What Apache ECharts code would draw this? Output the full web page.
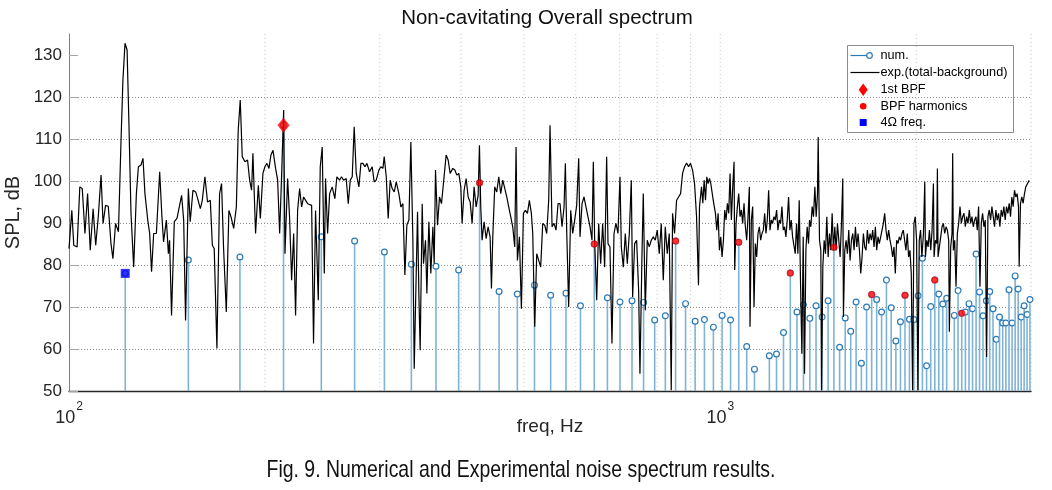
<!DOCTYPE html>
<html><head><meta charset="utf-8">
<script src="https://cdn.jsdelivr.net/npm/echarts@6/dist/echarts.min.js"></script>
<style>html,body{margin:0;padding:0;background:#fff}#c{width:1052px;height:490px}</style>
</head><body><div id="c"></div>
<script>
const TITLE = 'Non-cavitating Overall spectrum';
const CAPTION = 'Fig. 9. Numerical and Experimental noise spectrum results.';
const X_NAME = 'freq, Hz';
const Y_NAME = 'SPL, dB';
const LEGEND_LABELS = ['num.', 'exp.(total-background)', '1st BPF', 'BPF harmonics', '4\u03A9 freq.'];
const X_RANGE = [100, 3000];
const Y_RANGE = [50, 135];
const Y_TICKS = [50, 60, 70, 80, 90, 100, 110, 120, 130];
const X_GRID = [200, 300, 400, 500, 600, 700, 800, 900, 1000, 2000, 3000];

// numerical (stem) results
const NUM_FREQ = [122, 152.5, 183, 213.5, 244, 274.5, 305, 335.5, 366, 396.5,
  427, 457.5, 488, 518.5, 549, 579.5, 610, 640.5, 671, 701.5,
  732, 762.5, 793, 823.5, 854, 884.5, 915, 945.5, 976, 1006.5,
  1037, 1067.5, 1098, 1128.5, 1189.5, 1220, 1250.5, 1281, 1311.5, 1342,
  1372.5, 1403, 1433.5, 1464, 1494.5, 1525, 1555.5, 1586, 1616.5, 1647,
  1677.5, 1708, 1738.5, 1769, 1799.5, 1830, 1860.5, 1891, 1921.5, 1952,
  1982.5, 2013, 2043.5, 2074, 2104.5, 2135, 2165.5, 2196, 2226.5, 2287.5,
  2318, 2348.5, 2379, 2409.5, 2440, 2470.5, 2501, 2531.5, 2562, 2592.5,
  2623, 2653.5, 2684, 2714.5, 2745, 2775.5, 2806, 2836.5, 2867, 2897.5,
  2928, 2958.5, 2989];
const NUM_SPL = [78.0, 81.2, 81.9, 113.3, 86.7, 85.7, 83.1, 80.2, 79.7, 78.8,
  99.6, 73.7, 73.1, 75.2, 72.8, 73.3, 70.3, 85.0, 72.2, 71.2,
  71.5, 71.1, 66.9, 67.9, 85.7, 70.8, 66.6, 67.0, 65.2, 68.0,
  66.9, 85.4, 60.6, 55.2, 58.4, 58.8, 63.9, 78.1, 68.8, 70.5,
  67.3, 70.3, 67.6, 71.5, 84.2, 60.4, 67.4, 64.2, 71.2, 56.6,
  70.0, 73.0, 71.8, 68.8, 76.4, 69.8, 61.9, 66.5, 72.8, 67.1,
  67.0, 72.7, 81.6, 56.0, 70.1, 76.4, 73.1, 70.7, 72.1, 68.0,
  73.9, 68.5, 68.8, 70.8, 69.6, 82.6, 73.6, 67.9, 71.5, 73.7,
  69.6, 62.3, 67.6, 66.2, 66.2, 74.1, 66.2, 77.4, 74.3, 67.6,
  70.3, 68.2, 71.8];

const BPF1_FREQ = [213.5];
const BPF1_SPL = [113.3];
const HARM_FREQ = [427, 640.5, 854, 1067.5, 1281, 1494.5, 1708, 1921.5, 2135, 2348.5];
const HARM_SPL = [99.6, 85.0, 85.7, 85.4, 78.1, 84.2, 73.0, 72.8, 76.4, 68.5];
const OMEGA4_FREQ = [122];
const OMEGA4_SPL = [78.0];

// experimental spectrum [Hz, dB]
const EXP_POINTS = [
[100.0,83.9],[101.0,93.0],[101.7,84.7],[102.9,84.3],[103.9,98.6],[104.8,98.2],[105.8,87.5],[106.8,97.0],[107.8,83.5],[108.9,93.4],
[109.9,84.7],[110.9,91.5],[112.0,101.4],[112.8,89.9],[113.8,94.2],[114.9,94.0],[116.0,85.1],[116.8,81.5],[117.9,89.9],[119.1,87.9],
[120.2,109.7],[121.0,124.0],[121.9,132.8],[122.8,131.2],[123.6,113.7],[124.5,92.3],[125.7,79.5],[126.9,97.0],[127.8,103.4],[129.0,103.8],
[129.9,105.4],[130.8,97.0],[132.1,90.7],[133.0,87.5],[133.9,78.4],[134.9,87.5],[136.2,87.5],[137.8,102.2],[138.8,92.3],[139.7,85.5],
[141.1,90.7],[142.1,82.7],[142.7,85.9],[143.7,68.0],[145.1,90.3],[146.5,91.1],[147.5,93.4],[148.9,96.6],[150.0,90.7],[151.0,66.8],
[152.5,98.2],[153.5,90.3],[155.0,97.8],[156.5,97.4],[157.6,95.8],[159.1,93.4],[160.2,95.4],[161.7,101.0],[163.2,95.0],[164.8,95.4],
[166.0,84.7],[167.1,83.9],[168.7,60.1],[170.3,97.0],[171.5,99.4],[172.7,84.3],[174.4,68.8],[176.0,93.0],[177.3,91.5],[179.0,88.7],
[180.7,93.8],[181.9,112.1],[183.2,119.3],[184.5,105.8],[186.3,104.6],[188.0,105.0],[189.4,100.2],[190.7,97.8],[191.6,106.6],[193.4,87.5],
[195.3,99.0],[196.7,91.1],[198.5,101.8],[199.9,103.4],[201.3,104.2],[202.8,103.0],[204.2,106.2],[205.7,107.3],[207.6,103.0],[209.1,100.2],
[210.6,87.5],[212.1,101.8],[213.6,116.9],[214.6,82.7],[216.6,100.6],[218.1,91.5],[219.7,76.4],[221.3,87.5],[222.8,68.0],[224.4,93.0],
[226.0,98.2],[227.6,93.8],[229.2,96.2],[230.8,96.6],[232.5,94.6],[234.1,95.0],[235.8,94.2],[237.4,61.3],[239.1,93.0],[241.4,71.6],
[243.1,103.4],[244.8,108.1],[246.6,78.0],[247.7,100.6],[249.5,87.5],[251.3,97.0],[253.6,98.6],[256.0,95.8],[257.8,101.0],[260.3,100.2],
[262.1,101.0],[264.0,100.2],[266.5,100.6],[268.4,94.6],[270.3,100.2],[272.2,101.0],[274.1,112.9],[276.1,101.8],[278.7,98.6],
[280.7,104.2],[282.7,104.2],[284.7,103.4],[286.7,104.2],[289.4,102.2],[292.1,103.4],[294.2,99.8],[296.3,100.2],[299.1,102.6],[301.2,103.4],
[303.4,103.0],[304.8,105.8],[307.0,101.0],[309.1,91.1],[311.3,100.2],[313.5,98.2],[315.8,97.4],[318.0,99.8],[321.0,97.0],[323.3,93.8],
[325.6,94.6],[327.9,77.6],[330.2,89.5],[332.6,90.7],[334.9,109.3],[337.3,85.9],[338.9,55.3],[341.3,78.0],[342.9,92.7],[344.5,73.2],
[346.1,59.7],[348.6,94.6],[350.2,80.3],[352.7,85.9],[354.4,73.2],[356.9,90.3],[359.4,78.0],[362.0,89.1],[363.7,80.3],[365.4,102.6],
[368.0,89.5],[370.6,96.2],[373.2,94.6],[375.8,99.4],[379.4,106.2],[382.1,105.0],[384.8,101.8],[388.4,103.0],[391.2,102.6],[394.0,101.4],
[396.8,101.8],[399.6,98.6],[401.4,89.9],[404.3,97.8],[407.2,100.6],[410.1,96.2],[413.0,95.0],[415.9,89.9],[418.8,98.6],[421.8,93.8],
[424.8,96.6],[426.8,108.5],[428.8,93.8],[430.8,85.9],[433.9,90.3],[437.0,86.3],[440.1,89.1],[443.2,86.7],[445.3,74.4],[447.4,86.7],
[450.5,98.6],[453.7,97.4],[457.0,101.0],[460.2,97.0],[463.5,100.2],[466.7,100.2],[470.1,96.2],[473.4,93.8],[476.7,91.5],[480.1,89.1],
[483.5,84.3],[485.8,108.1],[488.1,81.1],[491.6,86.7],[495.0,69.6],[498.6,92.3],[502.1,93.0],[505.7,92.3],[509.2,95.4],[512.8,92.3],
[515.3,87.5],[518.9,65.3],[522.6,82.7],[526.3,81.1],[530.0,79.5],[533.8,89.9],[537.6,89.5],[541.4,87.5],[545.2,95.4],[547.8,113.3],
[551.7,89.1],[555.6,89.9],[559.5,88.3],[563.5,94.6],[567.5,94.6],[571.5,89.1],[575.6,93.8],[578.3,104.2],[581.0,88.3],[585.1,70.0],
[589.3,93.0],[593.5,87.5],[597.7,90.7],[601.9,94.2],[606.2,105.4],[609.0,86.7],[613.4,94.6],[617.7,96.2],[622.1,93.8],[626.5,93.8],
[631.0,89.1],[635.4,85.9],[638.4,104.6],[641.4,85.9],[646.0,71.6],[650.6,89.9],[655.2,80.3],[659.8,89.9],[664.5,79.5],[669.2,105.8],
[672.4,85.1],[677.1,84.3],[681.9,61.3],[686.8,87.5],[691.6,89.9],[696.5,87.5],[701.5,101.0],[704.8,84.3],[709.8,79.5],[714.8,87.5],
[719.9,80.3],[725.0,87.5],[730.1,100.2],[733.6,72.4],[738.8,85.1],[744.0,85.9],[749.3,74.0],[752.8,54.1],[758.1,81.9],[761.7,97.0],
[767.1,69.2],[772.5,85.9],[778.0,84.3],[783.5,85.9],[789.1,86.7],[794.7,85.9],[800.3,88.3],[806.0,82.7],[811.7,89.9],[817.5,76.4],
[823.3,89.1],[829.1,82.7],[835.0,87.5],[840.9,50.2],[844.8,92.3],[850.8,87.5],[856.9,95.4],[862.9,96.2],[869.1,97.0],[875.2,101.8],
[881.4,103.4],[887.7,104.3],[894.0,103.4],[900.3,104.2],[906.7,102.6],[913.1,99.4],[919.6,91.5],
[925.9,75.2],[929.2,93.9],[935.8,98.6],[940.2,94.7],[944.6,100.2],[949.1,95.4],[953.5,101.0],[958.0,99.4],[962.5,100.6],[967.0,99.4],
[971.6,99.8],[976.2,95.1],[983.1,92.3],[987.7,88.3],[992.4,92.3],[997.0,83.5],[1001.7,86.7],[1006.4,81.9],[1011.2,85.9],[1015.9,93.1],
[1020.7,90.7],[1025.5,94.7],[1030.4,92.3],[1035.2,101.8],[1040.1,90.7],[1045.0,98.6],[1050.0,104.6],[1052.4,78.8],[1057.4,89.9],[1062.4,93.9],
[1067.4,97.0],[1072.4,91.5],[1077.5,93.1],[1082.5,89.9],[1087.6,94.7],[1092.8,89.1],[1097.9,85.9],[1103.1,91.5],[1108.3,98.6],[1110.9,65.3],
[1116.2,90.7],[1121.4,93.9],[1126.7,70.0],[1132.0,85.1],[1137.3,81.9],[1142.7,87.5],[1148.1,89.1],[1153.5,85.9],[1158.9,87.5],[1164.4,88.3],
[1169.9,92.3],[1175.4,87.5],[1180.9,90.7],[1186.5,97.8],[1192.1,88.3],[1197.7,90.7],[1203.3,89.9],[1209.0,91.5],[1214.7,90.7],[1220.4,93.1],
[1226.2,88.3],[1232.0,90.7],[1237.8,89.9],[1243.6,93.9],[1249.5,88.3],[1255.4,89.1],[1261.3,86.7],[1267.2,90.7],[1273.2,96.2],[1279.2,88.3],
[1285.2,90.7],[1291.3,86.7],[1297.4,86.7],[1303.5,82.7],[1309.6,89.9],[1315.8,82.7],[1322.0,95.4],[1328.2,75.6],[1334.5,58.9],[1340.8,86.7],
[1347.1,54.1],[1353.5,83.5],[1359.8,89.1],[1366.2,85.1],
[1371.0,90.7],[1377.5,89.1],[1384.0,93.9],[1390.5,91.5],[1397.1,98.6],[1403.7,91.5],[1410.3,97.0],[1413.6,110.5],[1420.3,85.9],[1427.0,83.5],
[1430.3,50.2],[1437.1,79.6],[1443.9,85.9],[1450.7,82.7],[1457.5,91.5],[1464.4,81.9],[1471.3,87.5],[1478.2,83.5],[1485.2,92.3],[1492.2,83.5],
[1499.2,89.1],[1506.3,83.5],[1513.4,89.9],[1520.5,85.9],[1527.7,81.9],[1534.9,89.9],[1542.1,100.6],[1545.7,67.6],[1553.0,83.5],[1560.3,85.9],
[1567.7,82.7],[1575.1,88.3],[1582.5,81.1],[1590.0,85.9],[1597.5,87.5],[1605.0,83.5],[1612.6,89.1],[1620.2,84.3],[1627.8,87.5],[1635.5,83.5],
[1643.2,78.0],[1650.9,81.9],[1658.7,87.5],[1666.5,84.3],[1674.4,83.5],[1682.3,88.3],[1690.2,85.1],[1698.2,87.5],[1706.2,85.9],[1714.2,88.3],
[1722.3,84.3],[1730.4,89.1],[1738.5,83.5],[1746.7,86.7],[1755.0,85.1],[1763.3,86.7],[1771.6,88.3],[1779.9,89.9],[1788.3,92.3],[1796.8,88.3],
[1805.2,85.9],[1813.7,88.3],[1822.3,85.9],[1830.9,84.3],[1839.5,81.9],[1848.2,84.3],[1856.9,78.0],[1865.6,85.9],[1874.4,85.1],[1883.3,86.7],
[1892.1,85.9],[1901.0,87.5],[1910.0,88.3],[1919.0,85.9],[1928.0,83.5],[1937.1,87.5],[1946.2,81.9],[1955.4,83.5],[1964.6,78.0],[1973.9,50.2],
[1983.2,89.9],[1992.5,91.5],[2001.9,85.9],[2011.3,50.2],[2020.8,85.9],[2030.3,88.3],[2039.9,81.9],
[2051.1,87.5],[2060.7,99.8],[2065.6,81.9],[2075.3,85.9],[2085.0,84.3],[2094.8,88.3],[2104.7,83.5],[2114.6,88.3],[2124.6,99.4],[2129.6,81.9],
[2139.6,85.9],[2149.7,85.1],[2154.8,103.0],[2159.8,81.9],[2170.0,84.3],[2180.2,86.7],[2190.5,89.1],[2200.8,89.9],[2211.2,87.5],[2221.6,89.1],
[2232.1,88.3],[2242.6,85.9],[2247.9,64.1],[2258.5,84.3],[2269.1,87.5],[2274.4,106.6],[2279.8,83.5],[2290.6,85.9],[2301.4,74.8],[2312.2,87.5],
[2323.1,89.9],[2334.0,93.9],[2345.0,89.9],[2356.1,91.5],[2367.2,92.3],[2378.3,89.1],[2389.5,91.5],[2400.8,89.9],[2412.1,93.1],[2423.4,89.9],
[2434.9,91.5],[2446.3,89.1],[2457.9,90.7],[2469.5,91.5],[2481.1,88.3],[2492.8,93.9],[2504.5,74.8],[2516.3,89.9],[2528.2,92.3],[2540.1,89.1],
[2552.1,90.7],[2564.1,58.1],[2576.2,91.5],[2588.3,93.1],[2600.5,90.7],[2612.7,93.9],[2625.0,91.5],[2637.4,89.1],[2649.8,93.1],[2662.3,90.7],
[2674.8,92.3],[2687.4,89.1],[2700.1,93.1],[2712.8,91.5],[2725.6,93.9],[2738.4,90.7],[2751.3,93.9],[2764.3,92.3],[2777.3,94.7],[2790.4,91.5],
[2803.5,96.2],[2816.7,93.9],[2830.0,97.8],[2843.3,96.2],[2856.7,97.0],[2870.2,93.9],[2876.9,79.6],[2890.5,94.7],[2904.1,96.2],[2917.8,94.7],
[2931.5,97.0],[2945.3,98.6],[2959.2,98.2],[2973.1,99.8],[2980.1,100.2]
];

const FONT = '"Liberation Sans", Arial, Helvetica, sans-serif';
const STEM_COLOR = '#7fb3d5';
const CIRCLE_COLOR = '#2a7ab8';

const chart = echarts.init(document.getElementById('c'), null, {renderer: 'canvas'});
const zip = (a, b) => a.map((v, i) => [v, b[i]]);

const option = {
  animation: false,
  backgroundColor: '#fff',
  textStyle: {fontFamily: FONT},
  title: [
    {text: TITLE, left: 547, top: 8, textAlign: 'center', padding: 0,
     textStyle: {fontFamily: FONT, fontSize: 20.5, fontWeight: 'normal', color: '#111'}}
  ],
  grid: {left: 69, right: 21, top: 34, bottom: 99, containLabel: false, outerBoundsMode: 'none'},
  xAxis: {
    type: 'log', logBase: 10, min: X_RANGE[0], max: X_RANGE[1],
    name: X_NAME, nameLocation: 'middle', nameGap: 26, nameMoveOverlap: false,
    nameTextStyle: {fontFamily: FONT, fontSize: 19, color: '#262626'},
    axisLine: {show: true, lineStyle: {color: '#262626', width: 1.3}},
    axisTick: {show: false},
    splitLine: {show: false},
    axisLabel: {
      margin: 10, showMaxLabel: false,
      formatter: v => {
        const e = Math.log10(v), r = Math.round(e);
        if (Math.abs(e - r) < 1e-6 && (r === 2 || r === 3)) return '{b|10}{s|' + r + '}';
        return '';
      },
      rich: {
        b: {fontFamily: FONT, fontSize: 18, color: '#262626', lineHeight: 26, verticalAlign: 'bottom'},
        s: {fontFamily: FONT, fontSize: 12, color: '#262626', lineHeight: 12, verticalAlign: 'top', padding: [0, 0, 0, 1]}
      }
    }
  },
  yAxis: {
    type: 'value', min: Y_RANGE[0], max: Y_RANGE[1], interval: 10,
    name: Y_NAME, nameLocation: 'middle', nameGap: 46, nameRotate: 90, nameMoveOverlap: false,
    nameTextStyle: {fontFamily: FONT, fontSize: 20, color: '#262626'},
    axisLine: {show: true, lineStyle: {color: '#7f7f7f', width: 1}},
    axisTick: {show: true, inside: true, length: 9, customValues: Y_TICKS, lineStyle: {color: '#a6a6a6'}},
    axisLabel: {customValues: Y_TICKS, margin: 7, fontFamily: FONT, fontSize: 17, color: '#262626',
      formatter: v => (v > 130 ? '' : String(v))},
    splitLine: {show: true, showMinLine: false, showMaxLine: false, lineStyle: {color: '#8c8c8c', width: 1, type: [1, 2]}}
  },
  series: [
    {
      name: 'grid', type: 'custom', silent: true, z: 0,
      data: X_GRID.map(v => [v, Y_RANGE[0]]),
      renderItem: (params, api) => {
        const b = api.coord([api.value(0), Y_RANGE[0]]);
        const t = api.coord([api.value(0), Y_RANGE[1]]);
        return {type: 'line', shape: {x1: b[0], y1: b[1], x2: t[0], y2: t[1]},
          style: {stroke: '#c8c8c8', lineWidth: 1, lineDash: [1, 3]}};
      }
    },
    {
      name: LEGEND_LABELS[0], type: 'custom', z: 2,
      data: zip(NUM_FREQ, NUM_SPL),
      renderItem: (params, api) => {
        const t = api.coord([api.value(0), api.value(1)]);
        const b = api.coord([api.value(0), Y_RANGE[0]]);
        return {type: 'group', children: [
          {type: 'line', shape: {x1: b[0], y1: b[1], x2: t[0], y2: t[1]}, style: {stroke: STEM_COLOR, lineWidth: 1.6}},
          {type: 'circle', shape: {cx: t[0], cy: t[1], r: 2.9}, style: {fill: '#fff', stroke: CIRCLE_COLOR, lineWidth: 1.2}}
        ]};
      }
    },
    {
      name: LEGEND_LABELS[1], type: 'line', z: 3, showSymbol: false, symbol: 'none',
      data: EXP_POINTS,
      lineStyle: {color: '#000', width: 1.2}
    },
    {
      name: LEGEND_LABELS[2], type: 'scatter', z: 5, symbol: 'diamond', symbolSize: [12, 15],
      data: zip(BPF1_FREQ, BPF1_SPL), itemStyle: {color: '#ff0000'}
    },
    {
      name: LEGEND_LABELS[3], type: 'scatter', z: 5, symbol: 'circle', symbolSize: 7,
      data: zip(HARM_FREQ, HARM_SPL), itemStyle: {color: '#ff0000'}
    },
    {
      name: LEGEND_LABELS[4], type: 'scatter', z: 5, symbol: 'rect', symbolSize: 9,
      data: zip(OMEGA4_FREQ, OMEGA4_SPL), itemStyle: {color: '#0000ff'}
    }
  ],
  graphic: [{
    type: 'group', left: 847, top: 45, z: 100,
    children: [
      {type: 'rect', shape: {x: 0, y: 0, width: 166, height: 87}, style: {fill: '#fff', stroke: '#8c8c8c', lineWidth: 1}},
      {type: 'line', shape: {x1: 3, y1: 10, x2: 22, y2: 10}, style: {stroke: CIRCLE_COLOR, lineWidth: 1.2}},
      {type: 'circle', shape: {cx: 22, cy: 10, r: 2.8}, style: {fill: '#fff', stroke: CIRCLE_COLOR, lineWidth: 1.2}},
      {type: 'line', shape: {x1: 3, y1: 27, x2: 32, y2: 27}, style: {stroke: '#000', lineWidth: 1.2}},
      {type: 'polygon', shape: {points: [[15.7, 38], [20.2, 44.3], [15.7, 50.6], [11.2, 44.3]]}, style: {fill: '#ff0000'}},
      {type: 'circle', shape: {cx: 15.7, cy: 60.7, r: 3.3}, style: {fill: '#ff0000'}},
      {type: 'rect', shape: {x: 12.2, y: 73.5, width: 7, height: 7}, style: {fill: '#0000ff'}},
      ...LEGEND_LABELS.map((t, i) => ({
        type: 'text', x: 33, y: [10, 27, 44.3, 60.7, 77][i],
        style: {text: t, font: '12.7px ' + FONT, fill: '#000', textVerticalAlign: 'middle', textAlign: 'left'}
      }))
    ]
  }, {
    type: 'text', x: 521, y: 470, scaleX: 0.81, originX: 0, originY: 0, z: 100,
    style: {text: CAPTION, font: '24px ' + FONT, fill: '#111', textAlign: 'center', textVerticalAlign: 'middle'}
  }]
};
chart.setOption(option);
</script>
</body></html>
